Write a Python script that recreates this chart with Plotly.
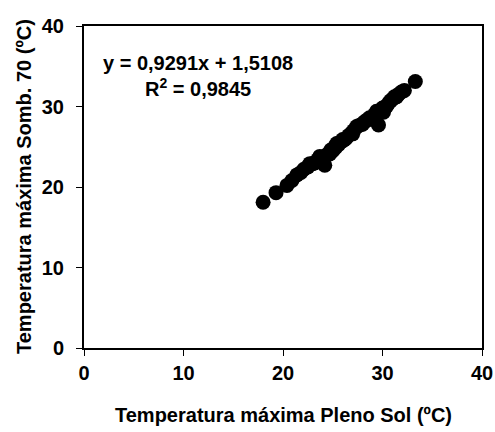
import plotly.graph_objects as go

pleno_sol = [18.0, 19.3, 20.4, 20.9, 21.4, 21.8, 22.1, 22.5, 22.7, 23.0, 23.3, 23.5, 23.7, 24.0, 24.2,
             24.4, 24.7, 25.0, 25.2, 25.4, 25.6, 25.8, 26.1, 26.3, 26.6, 26.9, 27.1, 27.4, 27.6, 27.9,
             28.2, 28.4, 28.7, 29.0, 29.2, 29.4, 29.6, 29.8, 30.0, 30.2, 30.4, 30.6, 30.8, 31.0, 31.2,
             31.4, 31.6, 31.9, 32.2, 33.3, 25.3, 26.0, 27.0, 28.0, 29.1, 30.1, 24.8, 23.2]
somb_70 = [18.1, 19.3, 20.2, 20.8, 21.5, 21.8, 22.2, 22.5, 22.9, 22.9, 23.1, 23.4, 23.8, 23.6, 22.7,
           24.0, 24.1, 24.5, 25.0, 25.4, 25.3, 25.6, 25.8, 26.0, 26.4, 26.7, 27.0, 27.5, 27.6, 27.8,
           28.1, 28.3, 28.6, 28.4, 29.0, 29.4, 27.7, 29.5, 29.8, 29.9, 30.0, 30.4, 30.7, 30.9, 31.2,
           31.2, 31.5, 31.8, 32.0, 33.1, 24.9, 25.9, 26.6, 27.8, 28.5, 29.3, 24.6, 23.0]

x_ticks = [0, 10, 20, 30, 40]
y_ticks = [0, 10, 20, 30, 40]

FONT = "Liberation Sans, Arial, sans-serif"
L, R, T, B = 84, 13, 26, 84
W, H = 495, 432
PW, PH = W - L - R, H - T - B

fig = go.Figure()
fig.add_trace(go.Scatter(
    x=pleno_sol, y=somb_70, mode="markers",
    marker=dict(color="black", size=15, line=dict(width=0)),
    showlegend=False, hoverinfo="skip"))

# regression equation
fig.add_annotation(
    x=(198 - L) / PW, y=(H - B - 76) / PH, xref="paper", yref="paper", showarrow=False,
    text="<b>y = 0,9291x + 1,5108</b><br><b>R<sup>2</sup> = 0,9845</b>",
    font=dict(family=FONT, size=20, color="black"), align="center",
    xanchor="center", yanchor="middle")

# axis titles
fig.add_annotation(
    x=0.5, y=-(415 - (H - B)) / PH, xref="paper", yref="paper", showarrow=False,
    text="<b>Temperatura máxima Pleno Sol (ºC)</b>",
    font=dict(family=FONT, size=20, color="black"),
    xanchor="center", yanchor="middle")
fig.add_annotation(
    x=-(L - 24) / PW, y=0.5, xref="paper", yref="paper", showarrow=False,
    text="<b>Temperatura máxima Somb. 70 (ºC)</b>", textangle=-90,
    font=dict(family=FONT, size=20, color="black"),
    xanchor="center", yanchor="middle")

axis_common = dict(
    showgrid=False, zeroline=False, showline=True, linecolor="black", linewidth=2,
    mirror=True, ticks="outside", ticklen=6, tickwidth=1, tickcolor="black",
    tickfont=dict(family=FONT, size=20, color="black"),
)

fig.update_xaxes(range=[0, 40], tickvals=x_ticks, ticktext=[f"<b>{v}</b>" for v in x_ticks],
                 **axis_common)
fig.update_yaxes(range=[0, 40], tickvals=y_ticks, ticktext=[f"<b>{v}</b>" for v in y_ticks],
                 ticklabelstandoff=8, **axis_common)

fig.update_layout(
    width=W, height=H,
    margin=dict(l=L, r=R, t=T, b=B, autoexpand=False),
    paper_bgcolor="white", plot_bgcolor="white",
)

fig.write_html("out.html")
